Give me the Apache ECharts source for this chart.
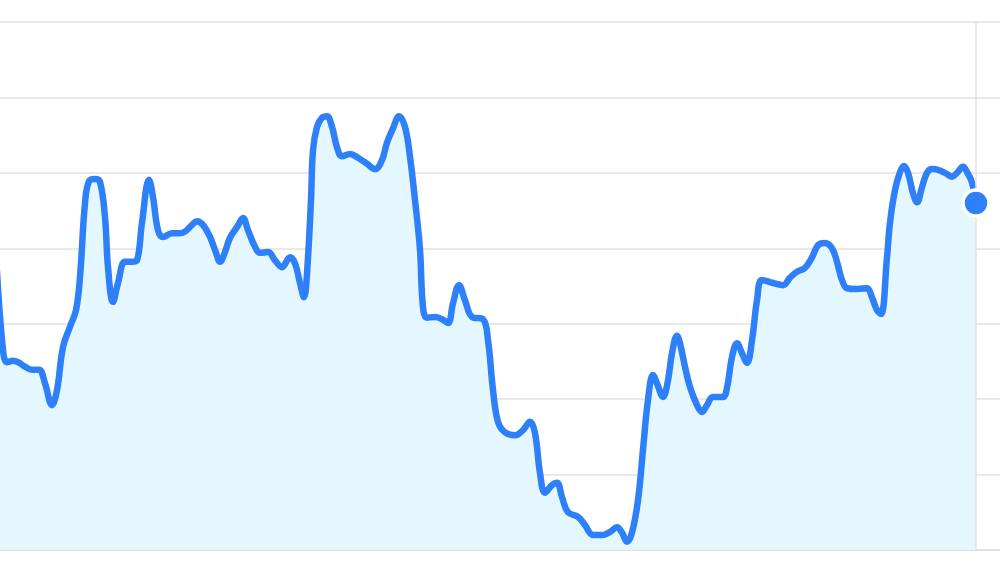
<!DOCTYPE html>
<html lang="en">
<head>
    <meta charset="UTF-8">
    <title>Line</title>
    <script src="https://cdn.jsdelivr.net/npm/echarts@6/dist/echarts.min.js"></script>
    <style>
        * {
            margin: 0;
            padding: 0;
        }

        html, body {
            width: 100%;
            height: 100%;
            overflow: hidden;
            background: #fff;
        }

        .box {
            width: 1000px;
            height: 564px;
        }
    </style>
</head>
<body>
<div class="box"></div>
<script>
    // day positions and values
    let days = [
        -1, 0.75, 1.75, 3.25, 4.5, 6.25, 8, 9.75, 11.25, 13,
        14.25, 15.75, 17.5, 19, 20, 21.25, 22.25, 23.75, 25, 26.25,
        27, 28.25, 29.5, 31.25, 33, 34.25, 35.5, 37.25, 38.25, 39.5,
        40.75, 43, 45, 46.25, 48, 49.25, 50.75, 52.5, 54, 55,
        56.25, 57.5, 59.25, 60.75, 62, 63.75, 65, 67, 68.75, 70.5,
        72.5, 73.75, 75, 76, 76.75, 77.75, 78.25, 79.25, 80.5, 81.75,
        83, 84.25, 85.5, 87.5, 89.5, 91.75, 93.75, 95.5, 96.75, 98.25,
        99.75, 101.25, 102.5, 103.75, 105, 105.75, 106.75, 108.75, 110.5, 112,
        113.25, 114.75, 116.25, 118, 120.75, 122, 123.25, 124.5, 126.25, 128.75,
        130.75, 132.5, 133.75, 135, 136.25, 138, 139.25, 140.5, 142, 144.5,
        146.25, 148.25, 150.75, 152.5, 154.25, 155.5, 156.75, 158, 159.5, 160.75,
        162, 163.25, 164.25, 165.75, 167, 168, 169.25, 170, 171.25, 172.5,
        174.25, 175.5, 176.75, 178.25, 180.75, 181.75, 183, 184.25, 185.5, 186.75,
        188, 189.25, 190.5, 193.25, 195.75, 197.5, 199.25, 201.25, 203, 204.5,
        206.25, 208, 209.25, 210.5, 211.75, 214.25, 216.75, 218, 219.25, 220.25,
        221.75, 222.5, 223.75, 225, 226, 227, 228.25, 229.25, 230.5, 231.75,
        233, 234.5, 236.25, 238, 239.25, 240.75, 241.75, 243, 244
    ];
    let values = [
        39.1, 26.5, 24.9, 25.1, 24.9, 24.3, 23.9, 23.9, 22.1, 19.2,
        21.2, 26.9, 29.6, 31.8, 36.2, 46.0, 48.9, 49.2, 48.8, 44.1,
        37.5, 32.9, 35.4, 38.2, 38.2, 38.4, 43.4, 49.1, 46.8, 42.4,
        41.5, 42.0, 42.0, 42.2, 43.1, 43.6, 43.1, 41.5, 39.4, 38.2,
        39.5, 41.4, 42.8, 44.0, 42.4, 40.2, 39.4, 39.5, 38.4, 37.5,
        38.8, 38.0, 35.4, 33.5, 36.7, 46.4, 53.0, 56.1, 57.3, 57.5,
        56.1, 53.4, 52.2, 52.5, 52.0, 51.2, 50.5, 51.7, 54.0, 55.9,
        57.5, 56.1, 52.1, 46.4, 39.8, 32.2, 30.8, 30.9, 30.6, 30.1,
        32.7, 35.1, 33.1, 30.9, 30.6, 27.8, 21.2, 17.0, 15.6, 15.2,
        15.9, 17.0, 15.5, 10.2, 7.6, 8.6, 8.9, 7.0, 5.0, 4.4,
        3.3, 2.0, 2.0, 2.4, 3.0, 2.3, 1.1, 2.3, 6.6, 13.3,
        19.9, 23.2, 22.1, 20.3, 22.5, 26.1, 28.4, 27.4, 24.3, 21.6,
        19.2, 18.3, 19.2, 20.3, 20.3, 21.5, 25.6, 27.4, 26.1, 24.8,
        27.8, 33.1, 35.8, 35.4, 35.1, 36.1, 36.9, 37.4, 38.8, 40.4,
        40.7, 40.0, 38.2, 35.8, 34.7, 34.6, 34.7, 33.5, 31.8, 31.3,
        38.8, 43.4, 47.7, 50.1, 50.9, 50.0, 47.3, 46.1, 48.1, 50.0,
        50.5, 50.4, 50.0, 49.5, 50.0, 50.8, 50.1, 48.7, 46.0
    ];

    let chart = echarts.init(document.querySelector('.box'));
    let points = days.map((d, i) => [d, values[i]]);
    let last = points[points.length - 1];

    chart.setOption({
        animation: false,
        grid: {
            left: 0,
            right: 0,
            top: 22,
            bottom: 14
        },
        xAxis: {
            type: 'value',
            min: 0,
            max: 250,
            axisLine: {show: true, lineStyle: {color: '#dcdcdc', width: 1.5}},
            axisTick: {show: false},
            axisLabel: {show: false},
            splitLine: {show: false}
        },
        yAxis: {
            type: 'value',
            min: 0,
            max: 70,
            interval: 10,
            axisLine: {show: false},
            axisTick: {show: false},
            axisLabel: {show: false},
            splitLine: {lineStyle: {color: '#e2e2e2', width: 1.5}}
        },
        series: [
            {
                type: 'line',
                data: points,
                smooth: 0.4,
                showSymbol: false,
                z: 2,
                lineStyle: {color: '#2e80f8', width: 6.5, cap: 'round', join: 'round'},
                areaStyle: {color: '#e4f7fe', opacity: 1},
                markLine: {
                    silent: true,
                    symbol: 'none',
                    label: {show: false},
                    lineStyle: {color: '#e2e2e2', width: 1.5, type: 'solid'},
                    data: [{xAxis: last[0]}]
                }
            },
            {
                type: 'scatter',
                data: [last],
                z: 10,
                clip: false,
                symbolSize: 26,
                itemStyle: {color: '#2e80f8', borderColor: '#fff', borderWidth: 3.5, opacity: 1}
            }
        ]
    });
</script>
</body>
</html>
